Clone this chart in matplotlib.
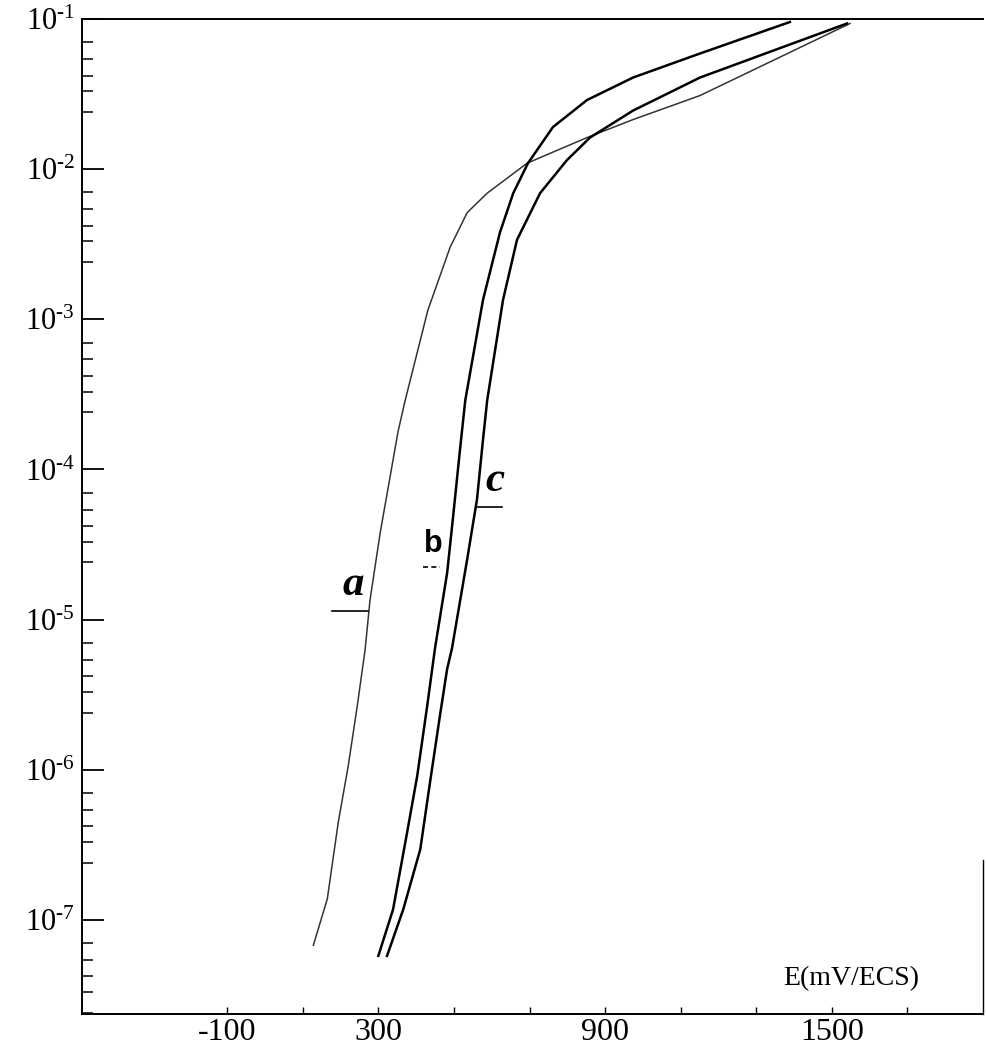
import numpy as np
import matplotlib.pyplot as plt
from matplotlib.ticker import LogLocator, NullFormatter

plt.rcParams['font.family'] = ['Liberation Serif', 'DejaVu Serif']
plt.rcParams['mathtext.fontset'] = 'custom'
plt.rcParams['mathtext.rm'] = 'Liberation Serif'
plt.rcParams['axes.unicode_minus'] = False

# potential (mV/ECS) and log10 of current density
a_E = [128, 165, 194, 220, 244, 265, 278, 305, 331, 352, 371, 405, 431, 490, 535,
       588, 694, 852, 974, 1151, 1548]
a_logi = [-7.17, -6.86, -6.35, -5.98, -5.58, -5.20, -4.87, -4.42, -4.05, -3.75, -3.54,
          -3.20, -2.94, -2.52, -2.29, -2.16, -1.96, -1.79, -1.67, -1.51, -1.03]

b_E = [300, 339, 376, 403, 429, 450, 482, 498, 516, 530, 577, 622, 657, 696, 762,
       852, 974, 1151, 1389]
b_logi = [-7.24, -6.93, -6.42, -6.04, -5.58, -5.19, -4.69, -4.31, -3.87, -3.54, -2.87,
          -2.42, -2.16, -1.96, -1.72, -1.54, -1.39, -1.23, -1.02]

c_E = [323, 366, 411, 437, 463, 482, 495, 535, 561, 577, 588, 630, 667, 728, 799,
       860, 974, 1151, 1540]
c_logi = [-7.24, -6.93, -6.53, -6.08, -5.64, -5.33, -5.19, -4.60, -4.20, -3.80, -3.54,
          -2.87, -2.47, -2.16, -1.94, -1.79, -1.61, -1.39, -1.03]

x_ticks = [-100, 100, 300, 500, 700, 900, 1100, 1300, 1500, 1700]
x_labels = ['-100', '', '300', '', '', '900', '', '', '1500', '']
y_exps = [-7, -6, -5, -4, -3, -2, -1]

fig = plt.figure(figsize=(9.86, 10.49), dpi=100)
ax = fig.add_axes([0.0832, 0.0334, 0.9138, 0.9485])

ax.plot(a_E, 10.0 ** np.array(a_logi), color='#333333', lw=1.1)
ax.plot(b_E, 10.0 ** np.array(b_logi), color='black', lw=1.8)
ax.plot(c_E, 10.0 ** np.array(c_logi), color='black', lw=1.8)

ax.set_yscale('log')
ax.set_xlim(-484, 1900)
ax.set_ylim(10 ** -7.627, 10 ** -1)

ax.set_yticks([10.0 ** e for e in y_exps])
ax.set_yticklabels([r'$\mathrm{10^{\text{-}%d}}$' % -e for e in y_exps], fontsize=22)
ax.yaxis.set_minor_locator(LogLocator(base=10, subs=(2.4, 3.3, 4.2, 5.4, 7.0)))
ax.yaxis.set_minor_formatter(NullFormatter())
ax.tick_params(axis='y', which='major', direction='in', length=16, width=1.3, pad=5)
ax.tick_params(axis='y', which='minor', direction='in', length=8, width=1.1)

ax.set_xticks(x_ticks)
ax.set_xticklabels(x_labels, fontsize=23)
ax.tick_params(axis='x', direction='in', length=5, width=1.0, pad=3)

for side in ['left', 'bottom', 'top']:
    ax.spines[side].set_linewidth(1.4)
ax.spines['right'].set_linewidth(1.0)
ax.spines['right'].set_bounds(10 ** -7.627, 10 ** -6.6)

ax.text(1551, 10 ** -7.394, 'E(mV/ECS)', fontsize=20, ha='center', va='center')

# curve labels with their underlines
ax.text(233, 10 ** -4.77, 'a', fontsize=31, fontweight='bold', fontstyle='italic',
        ha='center', va='center')
ax.plot([178, 273], [10 ** -4.945] * 2, color='black', lw=1.2)
ax.text(445, 10 ** -4.50, 'b', fontsize=22, fontweight='bold', family='Liberation Sans',
        ha='center', va='center')
ax.plot([418, 463], [10 ** -4.653] * 2, color='black', lw=1.2, ls=(0, (3, 2)))
ax.text(609, 10 ** -4.08, 'c', fontsize=31, fontweight='bold', fontstyle='italic',
        ha='center', va='center')
ax.plot([561, 627], [10 ** -4.253] * 2, color='black', lw=1.2)

fig.savefig('out.png', dpi=100)
